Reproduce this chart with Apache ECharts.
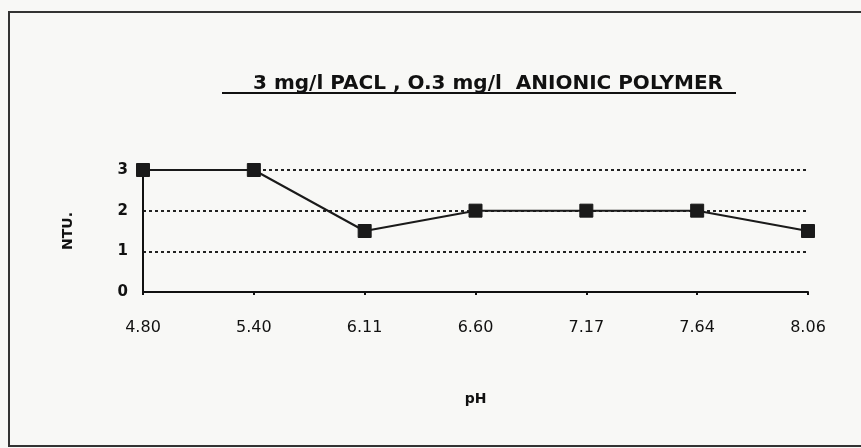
<!DOCTYPE html>
<html>
<head>
<meta charset="utf-8">
<script src="https://cdn.jsdelivr.net/npm/echarts@6/dist/echarts.min.js"></script>
<style>
  html, body { margin: 0; padding: 0; background: #f8f8f6; }
  #chart { width: 861px; height: 448px; }
</style>
</head>
<body>
<div id="chart"></div>
<script>
// pH 值（x 轴）
var phLabels = ['4.80', '5.40', '6.11', '6.60', '7.17', '7.64', '8.06']
// 浊度 NTU
var ntuValues = [3, 3, 1.5, 2, 2, 2, 1.5]
var yTicks = [0, 1, 2, 3]

var titleText = '3 mg/l PACL , O.3 mg/l  ANIONIC POLYMER'

var myChart = echarts.init(document.getElementById('chart'))

var option = {
  backgroundColor: '#f8f8f6',
  animation: false,
  title: {
    text: titleText,
    left: 483,
    textAlign: 'center',
    top: 69,
    textStyle: {
      fontFamily: 'DejaVu Sans',
      fontWeight: 'bold',
      fontSize: 20,
      color: '#111'
    }
  },
  grid: {
    left: 143,
    right: 53,
    top: 170,
    bottom: 156
  },
  xAxis: {
    type: 'category',
    data: phLabels,
    boundaryGap: false,
    name: 'pH',
    nameLocation: 'middle',
    nameGap: 100,
    nameTextStyle: {
      fontFamily: 'DejaVu Sans',
      fontWeight: 'bold',
      fontSize: 14,
      color: '#111'
    },
    axisLine: { lineStyle: { color: '#111', width: 2 } },
    axisTick: { show: true, length: 3, lineStyle: { color: '#111', width: 2 } },
    axisLabel: {
      margin: 28,
      fontFamily: 'DejaVu Sans',
      fontSize: 16,
      color: '#111'
    },
    splitLine: { show: false }
  },
  yAxis: {
    type: 'value',
    min: yTicks[0],
    max: yTicks[yTicks.length - 1],
    interval: 1,
    name: 'NTU.',
    nameLocation: 'middle',
    nameRotate: 90,
    nameGap: 68,
    nameTextStyle: {
      fontFamily: 'DejaVu Sans',
      fontWeight: 'bold',
      fontSize: 14,
      color: '#111'
    },
    axisLine: { show: true, lineStyle: { color: '#111', width: 2 } },
    axisTick: { show: false },
    axisLabel: {
      margin: 15,
      fontFamily: 'DejaVu Sans',
      fontWeight: 'bold',
      fontSize: 15,
      color: '#111'
    },
    splitLine: {
      show: true,
      lineStyle: { color: '#222', width: 2, type: [3, 3] }
    }
  },
  series: [
    {
      name: 'NTU',
      type: 'line',
      data: ntuValues,
      symbol: 'rect',
      symbolSize: 13,
      lineStyle: { color: '#1a1a1a', width: 2 },
      itemStyle: { color: '#1a1a1a', borderColor: '#1a1a1a' }
    }
  ],
  graphic: [
    {
      // 外框
      type: 'rect',
      shape: { x: 9, y: 12, width: 870, height: 434 },
      style: { fill: null, stroke: '#333', lineWidth: 2 },
      silent: true
    },
    {
      // 标题下划线
      type: 'line',
      shape: { x1: 222, y1: 93, x2: 736, y2: 93 },
      style: { stroke: '#111', lineWidth: 2 },
      silent: true
    }
  ]
}

myChart.setOption(option)
</script>
</body>
</html>
